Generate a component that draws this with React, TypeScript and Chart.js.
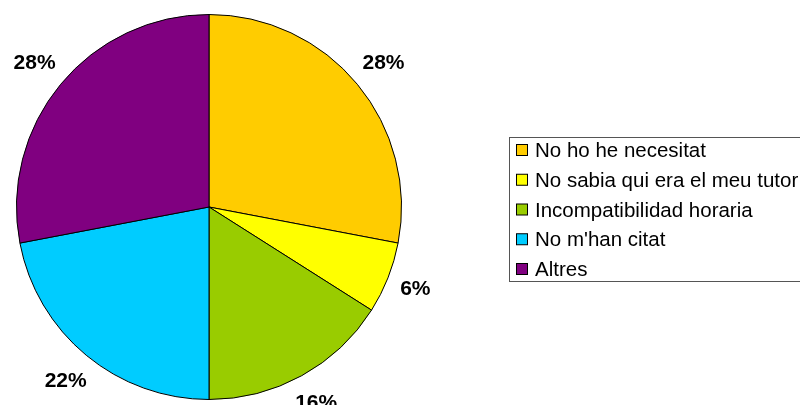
import React, { useEffect, useRef } from "react";
import { Chart, registerables } from "chart.js";

Chart.register(...registerables);

const categories = [
  "No ho he necesitat",
  "No sabia qui era el meu tutor",
  "Incompatibilidad horaria",
  "No m'han citat",
  "Altres",
];
const shares = [28, 6, 16, 22, 28];
const sliceColors = ["#FFCC00", "#FFFF00", "#99CC00", "#00CCFF", "#800080"];

const FONT = '"Liberation Sans", Arial, sans-serif';

const percentLabels = {
  id: "percentLabels",
  afterDatasetsDraw(chart: any) {
    const ctx = chart.ctx;
    const meta = chart.getDatasetMeta(0);
    const data = chart.data.datasets[0].data as number[];
    const total = data.reduce((a, b) => a + b, 0);
    ctx.save();
    ctx.font = `bold 21px ${FONT}`;
    ctx.fillStyle = "#000";
    ctx.textAlign = "center";
    ctx.textBaseline = "middle";
    meta.data.forEach((arc: any, i: number) => {
      const { x, y, startAngle, endAngle, outerRadius } = arc.getProps(
        ["x", "y", "startAngle", "endAngle", "outerRadius"],
        true
      );
      const mid = (startAngle + endAngle) / 2;
      const dx = Math.cos(mid);
      const dy = Math.sin(mid);
      const pct = Math.round((data[i] / total) * 100) + "%";
      const hw = ctx.measureText(pct).width / 2;
      const hh = 9;
      const d = outerRadius + 12 + Math.abs(dx) * hw + Math.abs(dy) * hh;
      ctx.fillText(pct, x + dx * d, y + dy * d + 1);
    });
    ctx.restore();
  },
};

const boxLegend = {
  id: "boxLegend",
  afterDraw(chart: any) {
    const ctx = chart.ctx;
    const labels = chart.data.labels as string[];
    const bg = chart.data.datasets[0].backgroundColor as string[];
    const left = 509.5;
    const top = 137.5;
    const bottom = 281.5;
    const rowH = 29.75;
    const firstY = 150.5;
    ctx.save();
    ctx.strokeStyle = "#555";
    ctx.lineWidth = 1;
    ctx.strokeRect(left, top, 330, bottom - top);
    ctx.font = `20.5px ${FONT}`;
    ctx.textAlign = "left";
    ctx.textBaseline = "middle";
    labels.forEach((lab, i) => {
      const cy = firstY + i * rowH;
      ctx.fillStyle = bg[i];
      ctx.fillRect(516.5, cy - 6, 11, 11);
      ctx.strokeStyle = "#000";
      ctx.strokeRect(516.5, cy - 6, 11, 11);
      ctx.fillStyle = "#000";
      ctx.fillText(lab, 535, cy + 1);
    });
    ctx.restore();
  },
};

export default function App() {
  const ref = useRef<HTMLCanvasElement>(null);
  useEffect(() => {
    document.body.style.margin = "0";
    const chart = new Chart(ref.current!, {
      type: "pie",
      data: {
        labels: categories,
        datasets: [
          {
            data: shares,
            backgroundColor: sliceColors,
            borderColor: "#000",
            borderWidth: 1,
          },
        ],
      },
      options: {
        responsive: false,
        animation: false,
        layout: { padding: { left: 16, top: 14, right: 398, bottom: 5 } },
        plugins: {
          legend: { display: false },
          tooltip: { enabled: false },
        },
      },
      plugins: [percentLabels, boxLegend],
    });
    return () => chart.destroy();
  }, []);
  return (
    <div style={{ position: "fixed", left: 0, top: 0, width: 800, height: 405, background: "#fff" }}>
      <canvas ref={ref} width={800} height={405} />
    </div>
  );
}
